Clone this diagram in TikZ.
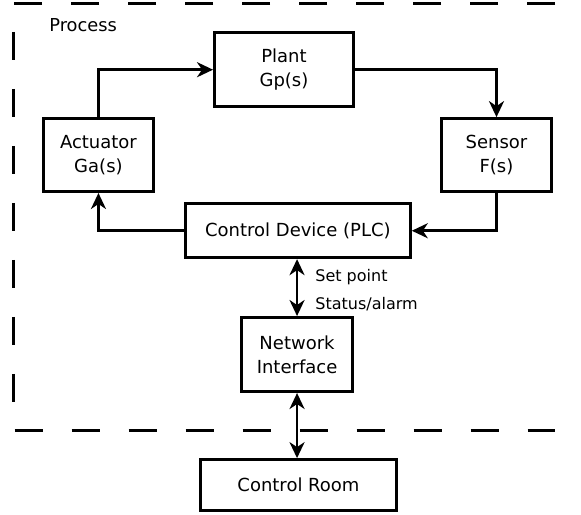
\documentclass[tikz,border=0pt]{standalone}
\usepackage{fontspec}
\setmainfont{DejaVu Sans}
\usepackage{tikz}
\usetikzlibrary{arrows.meta,positioning,calc}

\begin{document}
\begin{tikzpicture}[
    blk/.style={rectangle, draw, line width=3pt, minimum width=3.86cm, minimum height=2.56cm, align=center, font=\fontsize{18}{24}\selectfont},
    arr/.style={-{Stealth[length=16pt, width=15pt, inset=5pt]}, line width=2.7pt},
    dbl/.style={{Stealth[length=16pt, width=15pt, inset=5pt]}-{Stealth[length=16pt, width=15pt, inset=5pt]}, line width=2.7pt},
    lbl/.style={font=\fontsize{16}{19}\selectfont, inner sep=0pt},
]
\useasboundingbox (0,0) rectangle (20.42,18.07);
% Process boundary
\draw[line width=3pt, dash pattern=on 28pt off 29pt] (19.51,17.96) -- (0.49,17.96) -- (0.49,2.95) -- (19.51,2.95);
\node[font=\fontsize{17.8}{21}\selectfont] (proc) at (2.92,17.19) {Process};
% Nodes
\node[blk, minimum width=4.88cm, minimum height=2.6cm] (plant) at (9.98,15.62) {Plant\\Gp(s)};
\node[blk] (act)    at (3.46,12.62) {Actuator\\Ga(s)};
\node[blk] (sensor) at (17.45,12.62) {Sensor\\F(s)};
\node[blk, minimum width=7.9cm, minimum height=1.89cm] (ctrl) at (10.47,9.96) {Control Device (PLC)};
\node[blk, minimum width=3.89cm, minimum height=2.6cm] (net) at (10.44,5.61) {Network\\Interface};
\node[blk, minimum width=6.88cm, minimum height=1.79cm] (room) at (10.49,1.02) {Control Room};
% Connections
\draw[arr] (act.north) |- (plant.west);
\draw[arr] (plant.east) -| (sensor.north);
\draw[arr] (sensor.south) |- (ctrl.east);
\draw[arr] (ctrl.west) -| (act.south);
\draw[dbl] (ctrl.south -| net.north) -- node[lbl, right=17pt, pos=0.32]{Set point}
    node[lbl, right=17pt, pos=0.8]{Status/alarm} (net.north);
\draw[dbl] (net.south) -- (room.north -| net.south);
\end{tikzpicture}
\end{document}
